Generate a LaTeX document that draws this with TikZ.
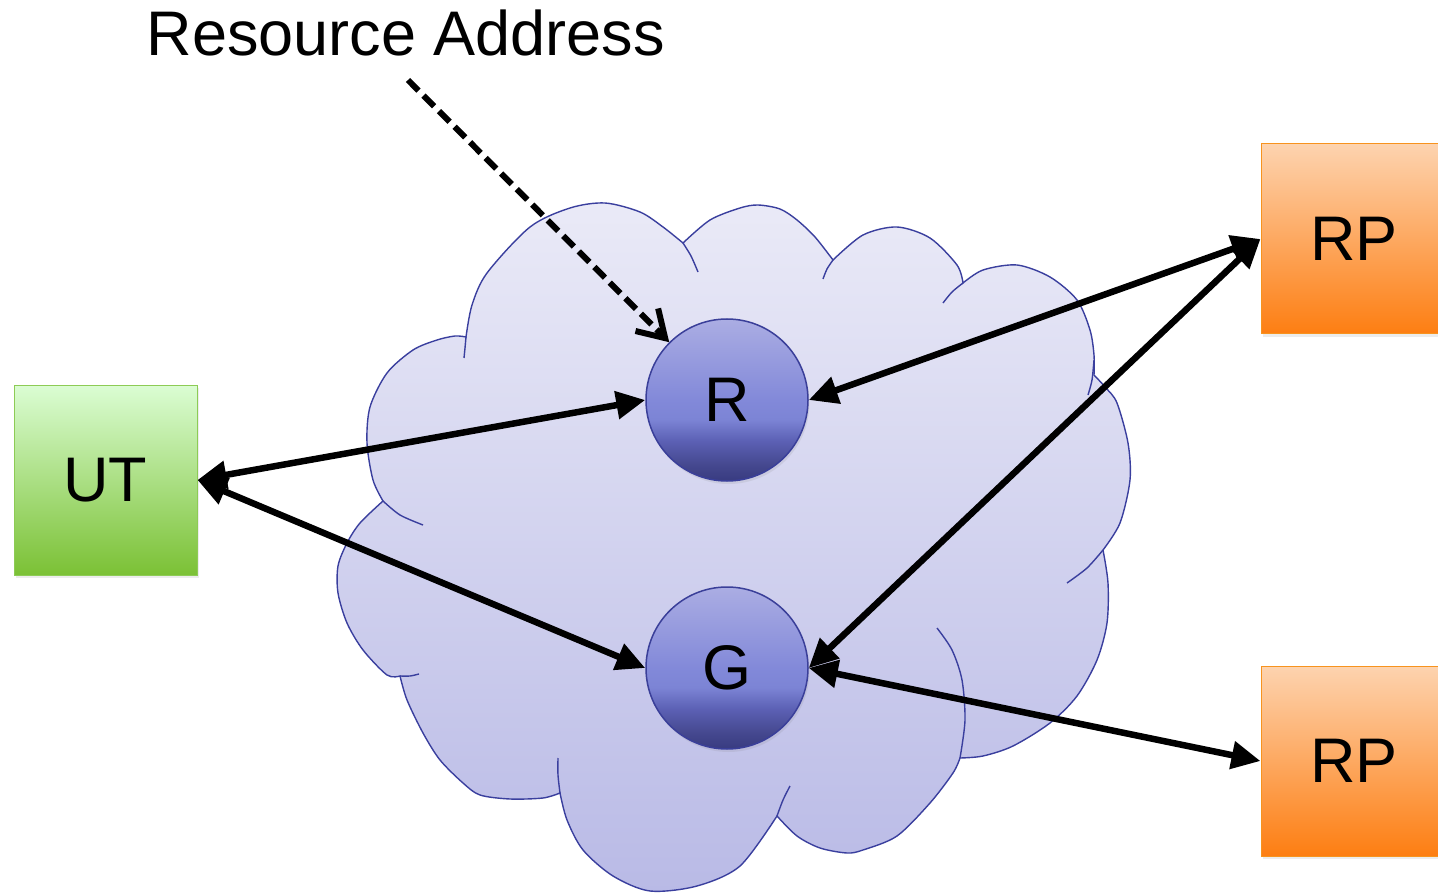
\documentclass[tikz,border=0pt]{standalone}
\usepackage{fontspec}
\setmainfont{Liberation Sans}
\usetikzlibrary{arrows.meta,shadows}
\definecolor{cloudline}{HTML}{3A3F9E}
\definecolor{cloudtop}{HTML}{EAEAF7}
\definecolor{cloudbot}{HTML}{B9BAE6}
\definecolor{circA}{HTML}{383B80}
\definecolor{circB}{HTML}{45488F}
\definecolor{circC}{HTML}{5C61B5}
\definecolor{circD}{HTML}{7C84D5}
\definecolor{circE}{HTML}{8289D9}
\definecolor{circF}{HTML}{ABADE3}
\definecolor{circline}{HTML}{3A3F99}
\definecolor{uttop}{HTML}{DBFDD3}
\definecolor{utbot}{HTML}{7BC135}
\definecolor{utline}{HTML}{8DCB55}
\definecolor{rptop}{HTML}{FDD3AF}
\definecolor{rpbot}{HTML}{FD7E12}
\definecolor{rpline}{HTML}{F7931E}
\pgfdeclareverticalshading{hubshade}{100bp}{color(0bp)=(circA); color(25bp)=(circA); color(30bp)=(circB); color(37.5bp)=(circC); color(44bp)=(circD); color(50bp)=(circE); color(75bp)=(circF); color(100bp)=(circF)}
\begin{document}
\begin{tikzpicture}[x=1pt,y=-1pt,
  bigtext/.style={font=\fontsize{63}{70}\selectfont},
  cloudstyle/.style={draw=cloudline, line width=1.4pt, top color=cloudtop, bottom color=cloudbot},
  stubstyle/.style={draw=cloudline, line width=1.4pt},
  hub/.style={circle, minimum size=162pt, inner sep=0pt, draw=circline, line width=1.5pt,
    shading=hubshade, bigtext,
    drop shadow={opacity=0.15, shadow xshift=1.5pt, shadow yshift=-3pt}},
  utbox/.style={rectangle, minimum width=183pt, minimum height=190pt, inner sep=0pt,
    draw=utline, line width=1pt, top color=uttop, bottom color=utbot, bigtext,
    drop shadow={opacity=0.15, shadow xshift=1.5pt, shadow yshift=-3pt}},
  rpbox/.style={rectangle, minimum width=186pt, minimum height=190pt, inner sep=0pt,
    draw=rpline, line width=1pt, top color=rptop, bottom color=rpbot, bigtext,
    drop shadow={opacity=0.15, shadow xshift=1.5pt, shadow yshift=-3pt}},
  link/.style={{Triangle[length=29pt,width=27pt]}-{Triangle[length=29pt,width=27pt]}, line width=6.5pt, black},
  pointer/.style={-{Straight Barb[length=26pt,width=32pt]}, line width=6pt, black, dash pattern=on 15pt off 7pt}
]
\useasboundingbox (0,0) rectangle (1438,893);

% cloud
\path[cloudstyle]
  plot[smooth] coordinates {(466,337) (472,305) (487,273) (530,227) (570,208) (605,203) (640,212) (663,227) (683,243)}
  -- plot[smooth] coordinates {(683,243) (710,220) (740,208) (758,205) (780,209) (797,220) (815,237) (833,260)}
  -- plot[smooth] coordinates {(833,260) (863,235) (897,227) (930,238) (957,265) (963,283)}
  -- plot[smooth] coordinates {(963,283) (983,270) (1017,265) (1050,277) (1077,300) (1090,330) (1094,355) (1094,375)}
  -- plot[smooth] coordinates {(1094,375) (1106,388) (1117,403) (1128,443) (1130,480) (1120,523) (1103,550)}
  -- plot[smooth] coordinates {(1103,550) (1108,583) (1107,623) (1097,660) (1077,696) (1050,723) (1013,746) (983,756) (960,758)}
  -- plot[smooth] coordinates {(960,758) (953,773) (930,803) (897,836) (863,850) (847,853) (820,848) (797,836) (777,816)}
  -- plot[smooth] coordinates {(777,816) (740,866) (697,886) (650,891) (613,876) (583,850) (567,820) (560,793)}
  -- plot[smooth] coordinates {(560,793) (543,798) (510,799) (480,795) (463,783) (440,760) (423,733) (407,700) (400,676)}
  -- plot[smooth] coordinates {(400,676) (387,675) (363,650) (347,623) (338,593) (338,566) (347,543) (360,523) (383,501)}
  -- plot[smooth] coordinates {(383,501) (373,480) (367,443) (370,407) (387,373) (413,350) (437,340) (455,336) (466,337)}
  -- cycle;

% inner arcs of the cloud
\draw[stubstyle] plot[smooth] coordinates {(466,337) (465,348) (464,358)};
\draw[stubstyle] plot[smooth] coordinates {(683,243) (691,256) (698,272)};
\draw[stubstyle] plot[smooth] coordinates {(833,260) (827,269) (823,279)};
\draw[stubstyle] plot[smooth] coordinates {(963,283) (952,292) (943,303)};
\draw[stubstyle] plot[smooth] coordinates {(1094,360) (1092,380) (1088,395)};
\draw[stubstyle] plot[smooth] coordinates {(1103,550) (1087,568) (1067,583)};
\draw[stubstyle] plot[smooth] coordinates {(960,758) (965,720) (962,680) (952,650) (937,628)};
\draw[stubstyle] plot[smooth] coordinates {(777,816) (783,800) (790,786)};
\draw[stubstyle] plot[smooth] coordinates {(560,793) (558,775) (558,758)};
\draw[stubstyle] plot[smooth] coordinates {(400,676) (410,676) (419,674)};
\draw[stubstyle] plot[smooth] coordinates {(383,501) (400,515) (423,525)};

% nodes
\node[hub] (R) at (727,400) {R};
\node[hub] (G) at (727,668) {G};
\node[utbox] (UT) at (105.5,480) {UT};
\node[rpbox] (RP1) at (1354,239) {RP};
\node[rpbox] (RP2) at (1354,761) {RP};
\node[bigtext, anchor=base, inner sep=0pt] (label) at (406,56) {Resource Address};
\coordinate (start) at (408,80);

% connectors
\draw[link] (UT.east) -- (R.west);
\draw[link] (UT.east) -- (G.west);
\draw[link] (RP1.west) -- (R.east);
\draw[link] (RP1.west) -- (G.east);
\draw[link] (RP2.west) -- (G.east);
\draw[pointer] (start) -- (R.135);
\end{tikzpicture}
\end{document}
